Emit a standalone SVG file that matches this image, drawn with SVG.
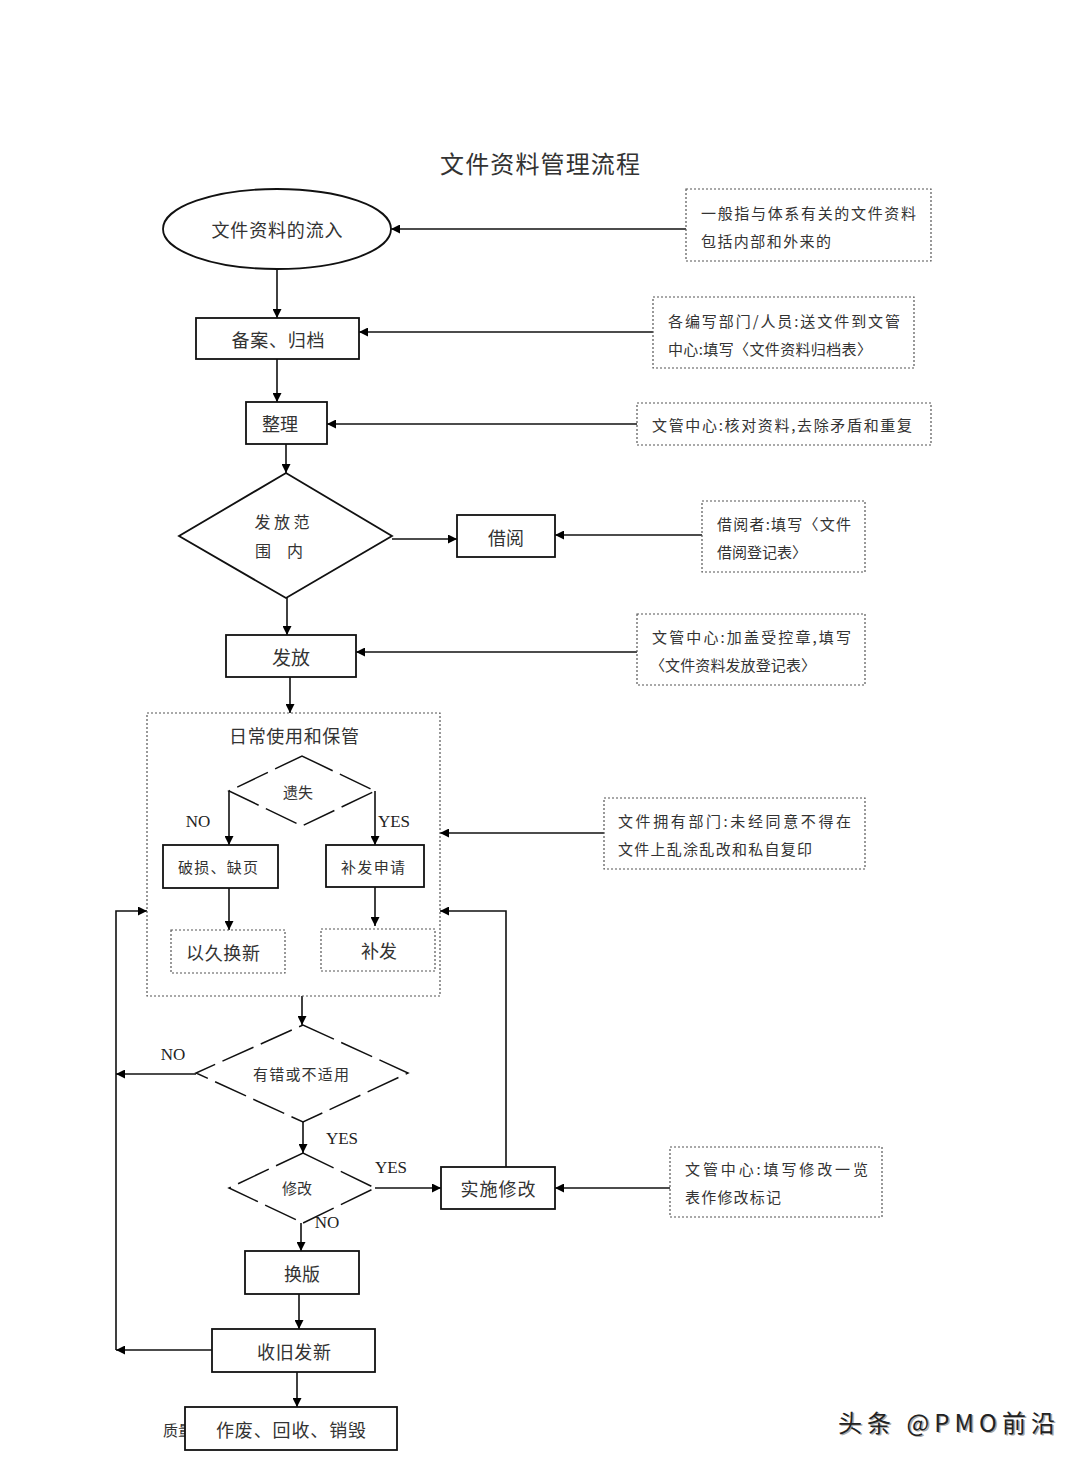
<svg xmlns="http://www.w3.org/2000/svg" width="1080" height="1459" viewBox="0 0 1080 1459">
<defs>
<marker id="ah" viewBox="0 0 10 10" refX="10" refY="5" markerWidth="11" markerHeight="9" markerUnits="userSpaceOnUse" orient="auto"><path d="M0,0 L10,5 L0,10 z" fill="#000"/></marker>
<style>
.box{fill:#fff;stroke:#111;stroke-width:1.8}
.note{fill:#fff;stroke:#555;stroke-width:1.2;stroke-dasharray:2 2}
.frame{fill:none;stroke:#555;stroke-width:1.2;stroke-dasharray:2 2}
.dash{fill:none;stroke:#111;stroke-width:1.5;stroke-dasharray:34 8}
.c{fill:none;stroke:#111;stroke-width:1.6}
.a{fill:none;stroke:#111;stroke-width:1.6;marker-end:url(#ah)}
.t{font-family:"Noto Sans CJK SC","Liberation Serif",serif;fill:#333;text-anchor:middle;dominant-baseline:central}
.n{font-family:"Noto Sans CJK SC","Liberation Serif",serif;fill:#333;font-size:15px;dominant-baseline:central}
.e{font-family:"Liberation Serif",serif;fill:#222;font-size:17px;text-anchor:middle;dominant-baseline:central}
</style>
</defs>
<rect width="1080" height="1459" fill="#fff"/>
<text class="t" x="540" y="162" font-size="24" textLength="200" lengthAdjust="spacing">文件资料管理流程</text>

<g id="connectors">
<path class="a" d="M686,229 H391"/>
<path class="a" d="M277,269 V318"/>
<path class="a" d="M653,332 H359"/>
<path class="a" d="M277,359 V402"/>
<path class="a" d="M637,424 H327"/>
<path class="a" d="M286,444 V473"/>
<path class="a" d="M392,539 H457"/>
<path class="a" d="M702,535 H555"/>
<path class="a" d="M287,598 V635"/>
<path class="a" d="M637,652 H356"/>
<path class="a" d="M290,677 V713"/>
<path class="a" d="M229,791 V845"/>
<path class="a" d="M375,791 V845"/>
<path class="a" d="M229,888 V930"/>
<path class="a" d="M375,887 V926"/>
<path class="a" d="M604,833 H440"/>
<path class="a" d="M506,1167 V911 H440"/>
<path class="a" d="M116,1350 V911 H147"/>
<path class="a" d="M302,996 V1025"/>
<path class="a" d="M196,1074 H116"/>
<path class="a" d="M303,1122 V1153"/>
<path class="a" d="M375,1188 H441"/>
<path class="a" d="M670,1188 H555"/>
<path class="a" d="M301,1223 V1251"/>
<path class="a" d="M299,1294 V1329"/>
<path class="a" d="M212,1350 H116"/>
<path class="a" d="M297,1372 V1407"/>
</g>

<g id="n-inflow"><ellipse class="box" cx="277" cy="229" rx="114" ry="40"/><text class="t" x="277" y="229" font-size="18" textLength="131" lengthAdjust="spacing">文件资料的流入</text></g>
<g id="note1"><rect class="note" x="686" y="189" width="245" height="72"/><text class="n" x="701" y="212" textLength="215" lengthAdjust="spacing">一般指与体系有关的文件资料</text><text class="n" x="701" y="240" textLength="130" lengthAdjust="spacing">包括内部和外来的</text></g>

<g id="n-archive"><rect class="box" x="196" y="318" width="163" height="41"/><text class="t" x="278" y="339" font-size="18" textLength="93" lengthAdjust="spacing">备案、归档</text></g>
<g id="note2"><rect class="note" x="653" y="297" width="261" height="71"/><text class="n" x="668" y="320" textLength="232" lengthAdjust="spacing">各编写部门/人员:送文件到文管</text><text class="n" x="668" y="348" textLength="204" lengthAdjust="spacing">中心:填写〈文件资料归档表〉</text></g>

<g id="n-sort"><rect class="box" x="246" y="402" width="81" height="42"/><text class="t" x="280" y="423" font-size="18">整理</text></g>
<g id="note3"><rect class="note" x="637" y="403" width="294" height="42"/><text class="n" x="652" y="424" textLength="260" lengthAdjust="spacing">文管中心:核对资料,去除矛盾和重复</text></g>

<g id="n-scope"><polygon class="box" points="286,473 392,536 286,598 179,536"/><text class="t" x="282" y="521" font-size="16" textLength="55" lengthAdjust="spacing">发放范</text><text class="t" x="279" y="550" font-size="16" textLength="48" lengthAdjust="spacing">围  内</text></g>
<g id="n-borrow"><rect class="box" x="457" y="515" width="98" height="42"/><text class="t" x="506" y="537" font-size="18">借阅</text></g>
<g id="note4"><rect class="note" x="702" y="501" width="163" height="71"/><text class="n" x="717" y="523" textLength="134" lengthAdjust="spacing">借阅者:填写〈文件</text><text class="n" x="717" y="551" textLength="90" lengthAdjust="spacing">借阅登记表〉</text></g>

<g id="n-issue"><rect class="box" x="226" y="635" width="130" height="42"/><text class="t" x="291" y="656" font-size="19">发放</text></g>
<g id="note5"><rect class="note" x="637" y="614" width="228" height="71"/><text class="n" x="652" y="636" textLength="199" lengthAdjust="spacing">文管中心:加盖受控章,填写</text><text class="n" x="650" y="664" textLength="166" lengthAdjust="spacing">〈文件资料发放登记表〉</text></g>

<g id="n-daily"><rect class="frame" x="147" y="713" width="293" height="283"/><text class="t" x="294" y="735" font-size="18" textLength="130" lengthAdjust="spacing">日常使用和保管</text></g>
<g id="n-lost"><polygon class="dash" points="302,756 375,791 302,826 229,791"/><text class="t" x="298" y="791" font-size="15">遗失</text></g>
<text class="e" x="198" y="821">NO</text>
<text class="e" x="394" y="821">YES</text>
<g id="n-damage"><rect class="box" x="163" y="845" width="115" height="43"/><text class="t" x="218" y="866" font-size="15" textLength="80" lengthAdjust="spacing">破损、缺页</text></g>
<g id="n-reapply"><rect class="box" x="326" y="845" width="98" height="42"/><text class="t" x="373" y="866" font-size="15" textLength="64" lengthAdjust="spacing">补发申请</text></g>
<g id="n-renew"><rect class="note" x="171" y="930" width="114" height="43"/><text class="t" x="223" y="952" font-size="18" textLength="74" lengthAdjust="spacing">以久换新</text></g>
<g id="n-reissue"><rect class="note" x="321" y="929" width="114" height="42"/><text class="t" x="379" y="950" font-size="18">补发</text></g>
<g id="note6"><rect class="note" x="604" y="798" width="261" height="71"/><text class="n" x="618" y="820" textLength="233" lengthAdjust="spacing">文件拥有部门:未经同意不得在</text><text class="n" x="618" y="848" textLength="194" lengthAdjust="spacing">文件上乱涂乱改和私自复印</text></g>

<g id="n-error"><polygon class="dash" points="303,1025 408,1073 303,1122 196,1073"/><text class="t" x="301" y="1073" font-size="15" textLength="96" lengthAdjust="spacing">有错或不适用</text></g>
<text class="e" x="173" y="1054">NO</text>
<text class="e" x="342" y="1138">YES</text>
<g id="n-modify"><polygon class="dash" points="303,1153 375,1188 303,1223 229,1188"/><text class="t" x="297" y="1187" font-size="15">修改</text></g>
<text class="e" x="391" y="1167">YES</text>
<text class="e" x="327" y="1222">NO</text>
<g id="n-implement"><rect class="box" x="441" y="1167" width="114" height="42"/><text class="t" x="498" y="1188" font-size="18" textLength="75" lengthAdjust="spacing">实施修改</text></g>
<g id="note7"><rect class="note" x="670" y="1147" width="212" height="70"/><text class="n" x="685" y="1168" textLength="183" lengthAdjust="spacing">文管中心:填写修改一览</text><text class="n" x="685" y="1196" textLength="96" lengthAdjust="spacing">表作修改标记</text></g>

<g id="n-version"><rect class="box" x="245" y="1251" width="114" height="43"/><text class="t" x="302" y="1273" font-size="18">换版</text></g>
<g id="n-recycle"><rect class="box" x="212" y="1329" width="163" height="43"/><text class="t" x="294" y="1351" font-size="18" textLength="74" lengthAdjust="spacing">收旧发新</text></g>
<text class="n" x="163" y="1429">质量</text>
<g id="n-destroy"><rect class="box" x="185" y="1407" width="212" height="43"/><text class="t" x="291" y="1429" font-size="18" textLength="150" lengthAdjust="spacing">作废、回收、销毁</text></g>

<text x="838" y="1421" font-family="Noto Sans CJK SC,Liberation Sans,sans-serif" font-size="24" fill="#aaa" textLength="217" lengthAdjust="spacing" dominant-baseline="central" transform="translate(1.5,1.5)">头条 @PMO前沿</text>
<text x="838" y="1421" font-family="Noto Sans CJK SC,Liberation Sans,sans-serif" font-size="24" fill="#222" textLength="217" lengthAdjust="spacing" dominant-baseline="central">头条 @PMO前沿</text>
</svg>
